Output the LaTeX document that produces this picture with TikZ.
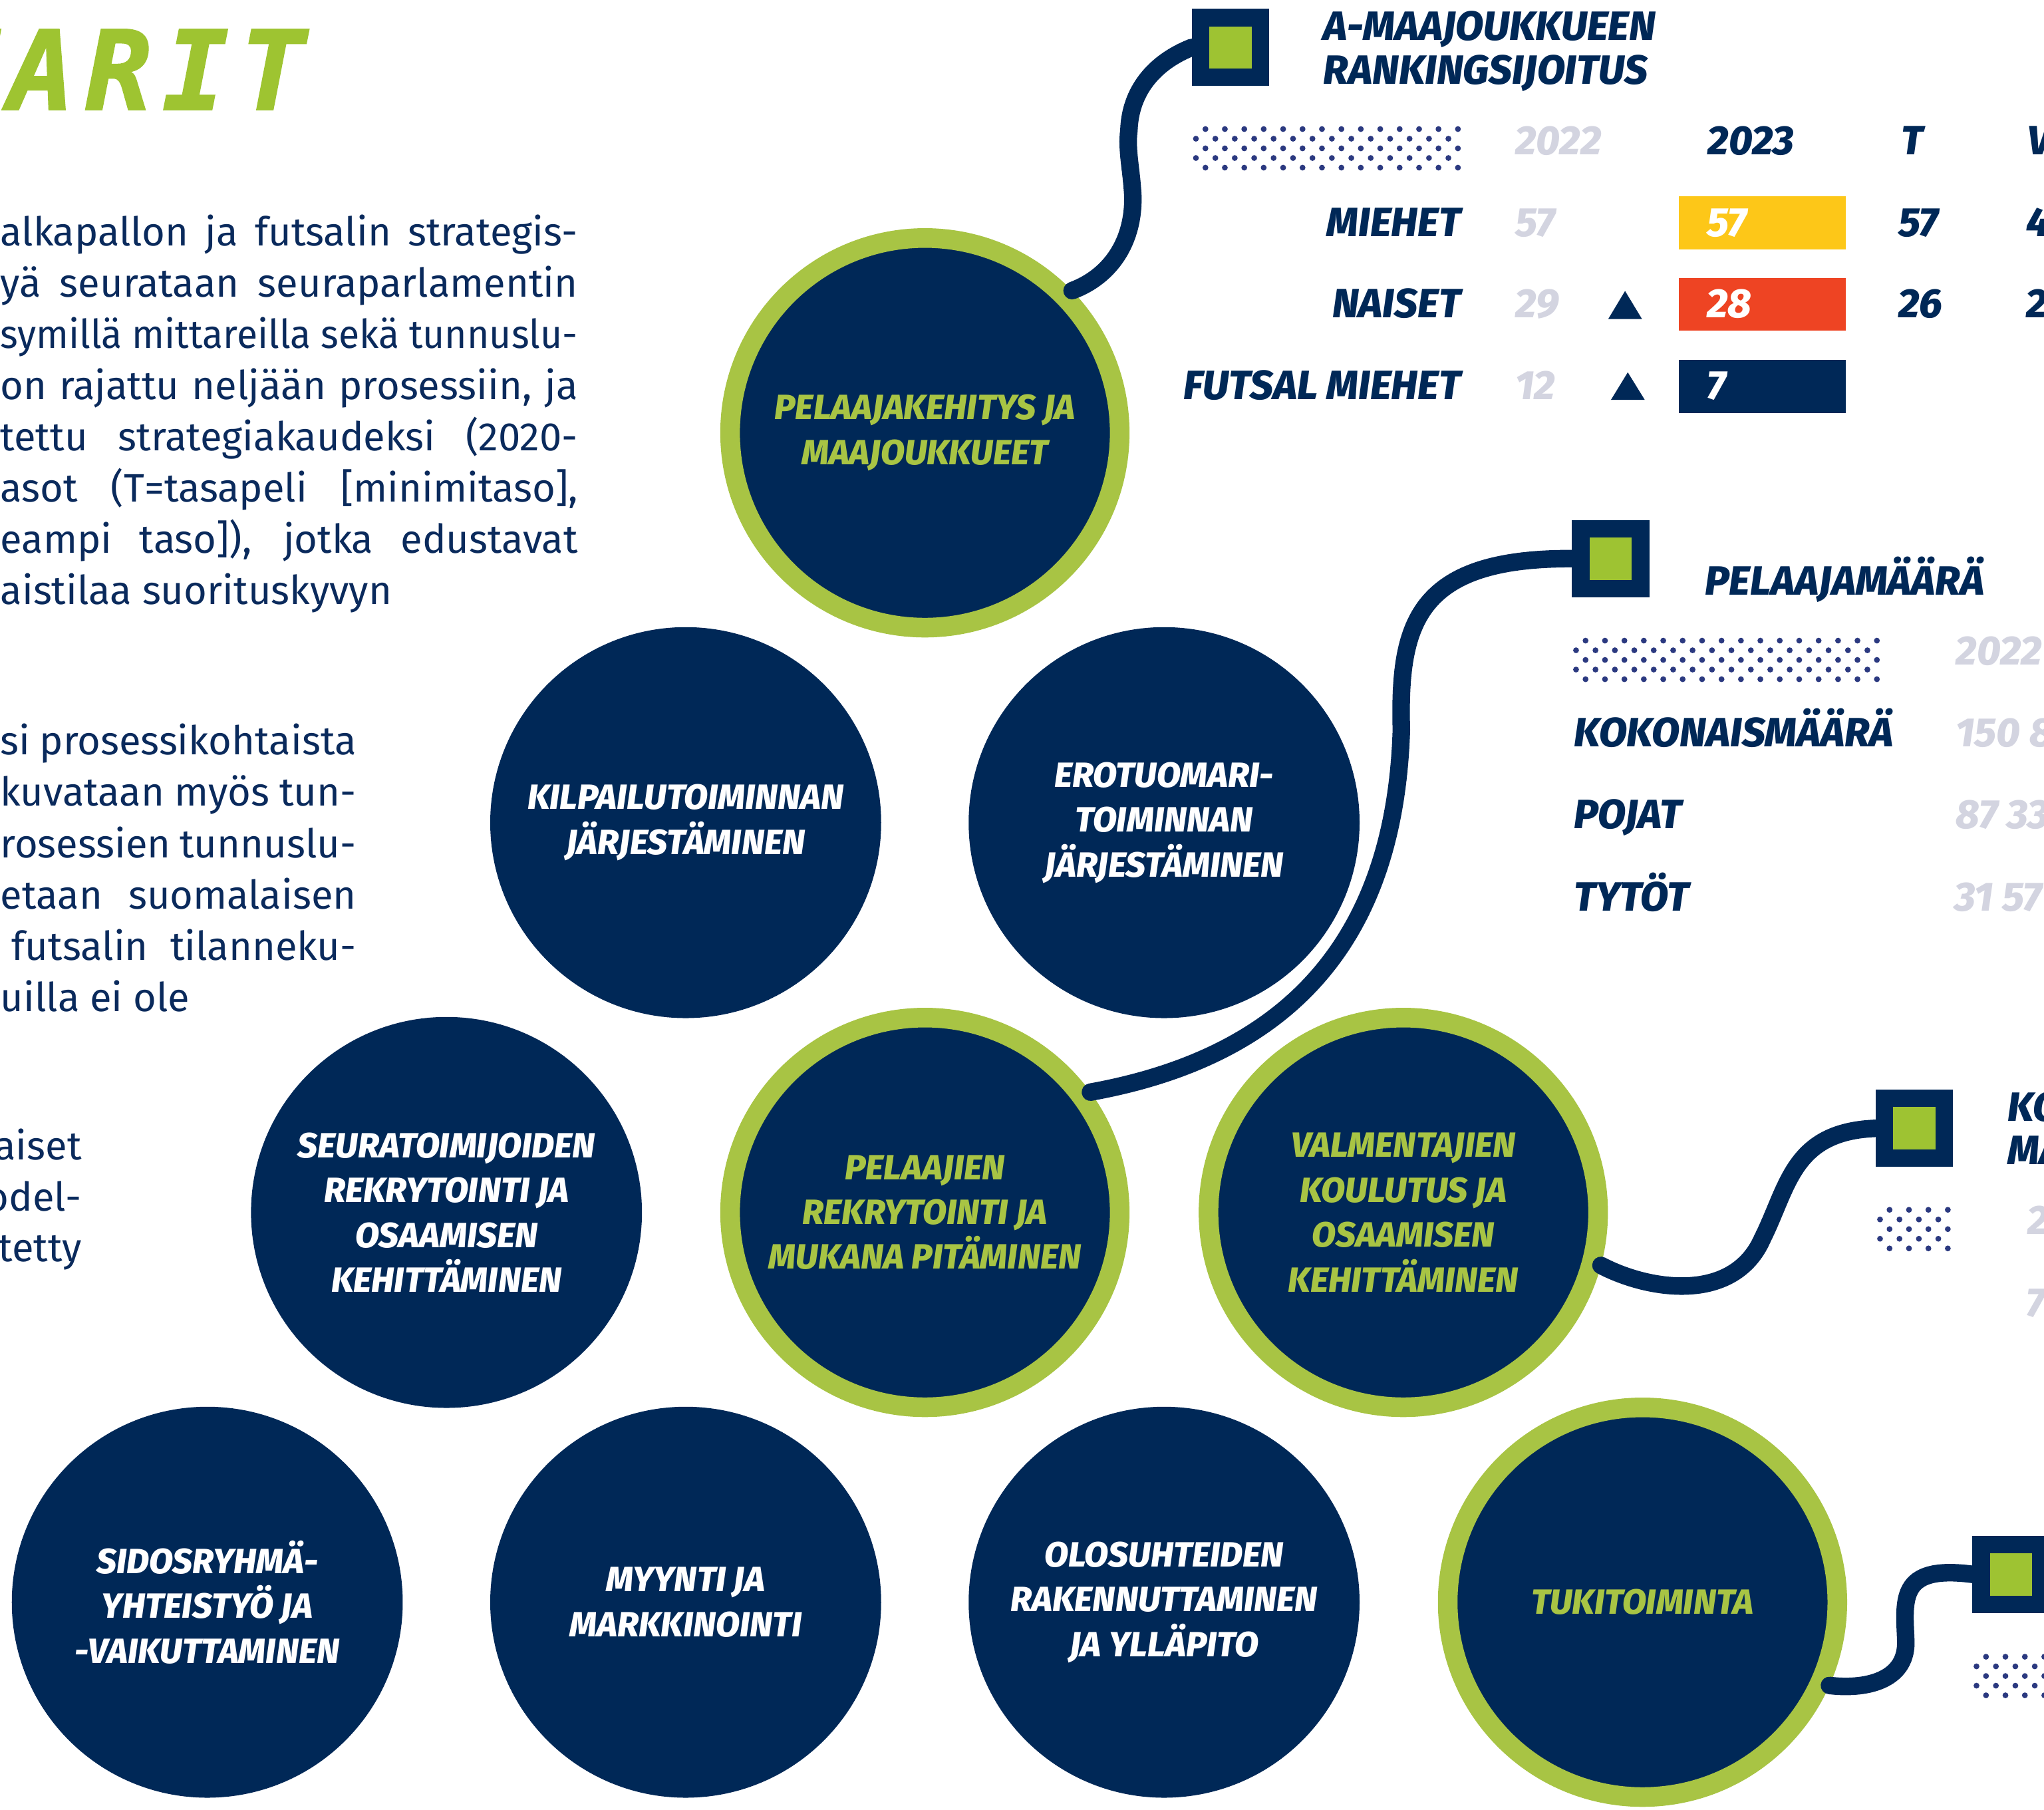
\documentclass[tikz,border=0pt]{standalone}
\usepackage{fontspec}
\setmainfont{Fira Sans}
\newfontfamily\lblfont{Fira Sans}[BoldItalicFont={Fira Sans ExtraBold Italic}]
\newfontfamily\titlefont{DejaVu Sans Mono}[BoldItalicFont={DejaVu Sans Mono Bold Oblique}, LetterSpace=10, FakeBold=1.5]

\definecolor{navy}{RGB}{0,40,87}
\definecolor{ringgreen}{RGB}{168,196,68}
\definecolor{sqgreen}{RGB}{158,195,50}
\definecolor{titlegreen}{RGB}{158,196,49}
\definecolor{dotblue}{RGB}{43,57,128}
\definecolor{pale}{RGB}{211,212,224}
\definecolor{rankyellow}{RGB}{253,199,24}
\definecolor{rankred}{RGB}{238,68,35}
\definecolor{bodyblue}{RGB}{10,42,92}

\newcommand{\circlefont}{\lblfont\bfseries\itshape\fontsize{15}{19.2}\selectfont}
\newcommand{\tablefont}{\lblfont\bfseries\itshape\fontsize{17.5}{18.7}\selectfont}
\newcommand{\bodyfont}{\fontsize{17}{21.75}\selectfont}

\newcommand{\dotfield}[3]{%
  \foreach \r in {0,...,4}{
    \pgfmathsetmacro{\rowoff}{mod(\r+1,2)*7.3}
    \foreach \c in {1,...,#3}{
      \fill[dotblue] (#1+\rowoff+14.9*\c-14.9, #2+7.4*\r) circle[radius=1.25pt];
    }
  }
}

\begin{document}
\begin{tikzpicture}[x=0.0196cm, y=-0.0196cm,
    proc/.style={circle, fill=navy, minimum size=5.88cm, inner sep=0pt, text=white, align=center, font=\circlefont},
    keyproc/.style={proc, draw=ringgreen, line width=8.4pt, minimum size=5.86cm, text=ringgreen},
    endsq/.style={draw=navy, fill=sqgreen, line width=7.5pt, minimum size=25.6pt, inner sep=0pt},
    wire/.style={draw=navy, line width=7.5pt, line cap=round},
    lbl/.style={inner sep=0pt, font=\tablefont, text=navy},
    num/.style={lbl, anchor=base west, text=pale},
    rankbox/.style={minimum width=71.4pt, minimum height=22.7pt, inner sep=0pt},
    body/.style={inner sep=0pt, anchor=base west, font=\bodyfont, text=bodyblue}]
    \useasboundingbox (0,0) rectangle (1568,1388);

    \node[anchor=base west, inner sep=0pt, text=titlegreen, font=\titlefont\bfseries\itshape\fontsize{47}{47}\selectfont] (title) at (-53,84) {TARIT};

    \node[body] (p1a) at (0,188.6) {\makebox[247.1pt][s]{alkapallon ja futsalin strategis-}};
    \node[body] (p1b) at (0,227.9) {\makebox[247.1pt][s]{yä seurataan seuraparlamentin}};
    \node[body] (p1c) at (0,267.2) {\resizebox{247.1pt}{\height}{symillä mittareilla sekä tunnuslu-}};
    \node[body] (p1d) at (0,306.5) {\makebox[247.1pt][s]{on rajattu neljään prosessiin, ja}};
    \node[body] (p1e) at (0,345.8) {\makebox[247.1pt][s]{tettu strategiakaudeksi (2020-}};
    \node[body] (p1f) at (0,385.1) {\makebox[247.1pt][s]{asot (T=tasapeli [minimitaso],}};
    \node[body] (p1g) at (0,424.4) {\makebox[247.1pt][s]{eampi taso]), jotka edustavat}};
    \node[body] (p1h) at (0,463.7) {aistilaa suorituskyvyn};

    \node[body] (p2a) at (0,579) {\makebox[152.3pt][s]{si prosessikohtaista}};
    \node[body] (p2b) at (0,618.4) {\makebox[152.3pt][s]{kuvataan myös tun-}};
    \node[body] (p2c) at (0,657.8) {\makebox[152.3pt][s]{rosessien tunnuslu-}};
    \node[body] (p2d) at (0,697.2) {\makebox[152.3pt][s]{etaan suomalaisen}};
    \node[body] (p2e) at (8.8,736.6) {\makebox[147.4pt][s]{futsalin tilanneku-}};
    \node[body] (p2f) at (0,776) {uilla ei ole};

    \node[body, anchor=base east] (p3a) at (63,889.8) {aiset};
    \node[body, anchor=base east] (p3b) at (63,929) {odel-};
    \node[body, anchor=base east] (p3c) at (63,967.7) {tetty};

    \node[keyproc] (pk) at (709.5,332) {PELAAJAKEHITYS JA\\MAAJOUKKUEET};
    \node[proc] (kt) at (526,631) {KILPAILUTOIMINNAN\\JÄRJESTÄMINEN};
    \node[proc] (er) at (893,631) {EROTUOMARI-\\TOIMINNAN\\JÄRJESTÄMINEN};
    \node[proc] (se) at (342.5,930) {SEURATOIMIJOIDEN\\REKRYTOINTI JA\\OSAAMISEN\\KEHITTÄMINEN};
    \node[keyproc] (pr) at (709.5,930) {PELAAJIEN\\REKRYTOINTI JA\\MUKANA PITÄMINEN};
    \node[keyproc] (vk) at (1076.5,930) {VALMENTAJIEN\\KOULUTUS JA\\OSAAMISEN\\KEHITTÄMINEN};
    \node[proc] (sr) at (159,1229) {SIDOSRYHMÄ-\\YHTEISTYÖ JA\\-VAIKUTTAMINEN};
    \node[proc] (my) at (526,1229) {MYYNTI JA\\MARKKINOINTI};
    \node[proc] (ol) at (893,1229) {OLOSUHTEIDEN\\RAKENNUTTAMINEN\\JA YLLÄPITO};
    \node[keyproc] (tu) at (1260,1229) {TUKITOIMINTA};

    \node[endsq] (sqrank) at (943.8,36.4) {};
    \node[endsq] (sqplayers) at (1235.5,428.5) {};
    \node[endsq] (sqcoach) at (1468.4,865.5) {};
    \node[endsq] (sqsupport) at (1542.7,1207.6) {};

    \draw[wire] (pk.44) .. controls (852,212) and (870,185) .. (869,150)
        .. controls (868,130) and (864,115) .. (866,100)
        .. controls (867,70) and (885,48) .. (sqrank.west);
    \draw[wire] (pr.36) .. controls (990,810) and (1070,720) .. (1075,560)
        .. controls (1073,480) and (1085,428) .. (sqplayers.west);
    \draw[wire] (vk.-15) .. controls (1265,990) and (1330,1000) .. (1352,950)
        .. controls (1372,910) and (1375,868) .. (sqcoach.west);
    \draw[wire] (tu.-24) .. controls (1430,1296) and (1462,1290) .. (1462,1260)
        .. controls (1461,1228) and (1455,1200) .. (sqsupport.west);

    \dotfield{917.4}{99}{14}
    \dotfield{1209}{491.4}{16}
    \dotfield{1442.2}{928}{4}
    \dotfield{1516.2}{1270.8}{5}

    \node[lbl, anchor=base west] (rankA) at (1015,31) {A-MAAJOUKKUEEN};
    \node[lbl, anchor=base west] (rankB) at (1015,64.5) {RANKINGSIJOITUS};
    \node[num] (y22) at (1162,118.5) {2022};
    \node[lbl, anchor=base west] (y23) at (1309.7,118.5) {2023};
    \node[lbl, anchor=base west] (colT) at (1458,118.5) {T};
    \node[lbl, anchor=base west] (colV) at (1555,118.5) {V};

    \node[lbl, anchor=base east] (men) at (1121,181.3) {MIEHET};
    \node[lbl, anchor=base east] (women) at (1121,243.7) {NAISET};
    \node[lbl, anchor=base east] (futsal) at (1121,306.3) {FUTSAL MIEHET};
    \node[num] (men22) at (1162,181.3) {57};
    \node[num] (women22) at (1162,243.7) {29};
    \node[num] (futsal22) at (1162,306.3) {12};
    \fill[navy] (1233.7,244.7) -- (1246.6,223.2) -- (1259.6,244.7) -- cycle;
    \fill[navy] (1235.8,306.7) -- (1248.7,285.6) -- (1261.7,306.7) -- cycle;
    \node[rankbox, fill=rankyellow] (boxmen) at (1351.9,171) {};
    \node[rankbox, fill=rankred] (boxwomen) at (1351.9,233.5) {};
    \node[rankbox, fill=navy] (boxfutsal) at (1351.9,296.4) {};
    \node[lbl, anchor=base west, text=white] (men23) at (1309,181.3) {57};
    \node[lbl, anchor=base west, text=white] (women23) at (1309,243.7) {28};
    \node[lbl, anchor=base west, text=white] (futsal23) at (1309,306.3) {7};
    \node[lbl, anchor=base west] (menT) at (1456,181.3) {57};
    \node[lbl, anchor=base west] (womenT) at (1456,243.7) {26};
    \node[lbl, anchor=base west] (menV) at (1554,181.3) {4};
    \node[lbl, anchor=base west] (womenV) at (1554,243.7) {2};

    \node[lbl, anchor=base west] (players) at (1307.6,456.2) {PELAAJAMÄÄRÄ};
    \node[num] (pl22) at (1500,510) {2022};
    \node[lbl, anchor=base west] (total) at (1207,572.9) {KOKONAISMÄÄRÄ};
    \node[lbl, anchor=base west] (boys) at (1207,635.5) {POJAT};
    \node[lbl, anchor=base west] (girls) at (1207,698.8) {TYTÖT};
    \node[num] (total22) at (1500,572.9) {150 8};
    \node[num] (boys22) at (1500,635.5) {87 33};
    \node[num] (girls22) at (1499,698.8) {31 57};

    \node[lbl, anchor=base west] (coachA) at (1540,860) {KO};
    \node[lbl, anchor=base west] (coachB) at (1540,893) {MÄ};
    \node[num] (coach1) at (1555,947) {2};
    \node[num] (coach2) at (1554,1010) {7};
\end{tikzpicture}
\end{document}
